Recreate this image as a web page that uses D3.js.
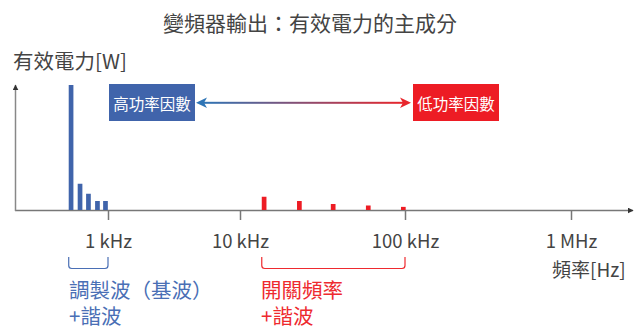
<!DOCTYPE html>
<html><head><meta charset="utf-8">
<script src="https://cdn.jsdelivr.net/npm/d3@7"></script>
<style>
body{margin:0;background:#fff;}
svg{display:block;}
text{font-family:"Noto Sans CJK TC","Noto Sans CJK SC",sans-serif;}
</style></head>
<body>
<script>
// ---- data ----
const title = "變頻器輸出：有效電力的主成分";
const yLabel = "有效電力[W]";
const xLabel = "頻率[Hz]";
const tickValues = [1e3, 1e4, 1e5, 1e6];
const tickLabels = ["1 kHz", "10 kHz", "100 kHz", "1 MHz"];
// modulation wave (fundamental) + harmonics
const lowFreq = [525, 614, 711, 832, 957];
const lowPower = [100, 21, 13, 7.2, 7.2];
// switching frequency + harmonics
const highFreq = [14000, 22900, 36700, 59900, 97700];
const highPower = [10.6, 7.2, 4.8, 3.6, 2.5];
const leftBoxLabel = "高功率因數";
const rightBoxLabel = "低功率因數";
const lowGroup = ["調製波（基波）", "+諧波"];
const highGroup = ["開關頻率", "+諧波"];

// ---- drawing ----
const W = 640, H = 327;
const blue = "#4064AB", red = "#ED1C24", axisC = "#777", textC = "#444";
const svg = d3.select("body").append("svg").attr("width", W).attr("height", H);

const x = d3.scaleLog().domain(tickValues).range([108, 240, 405, 571]);
const y = d3.scaleLinear().domain([0, 100]).range([210, 85]);
const barW = 4.7;

const defs = svg.append("defs");
const grad = defs.append("linearGradient").attr("id", "g").attr("x1", "0%").attr("x2", "100%");
grad.append("stop").attr("offset", "0%").attr("stop-color", "#2E75B6");
grad.append("stop").attr("offset", "100%").attr("stop-color", "#E8262C");
defs.append("marker").attr("id", "ay").attr("viewBox", "0 0 10 10").attr("refX", 9).attr("refY", 5)
  .attr("markerWidth", 6).attr("markerHeight", 6).attr("markerUnits", "userSpaceOnUse").attr("orient", "auto")
  .append("path").attr("d", "M0,0 L10,5 L0,10 Z").attr("fill", "#333");

// title & axis labels
svg.append("text").attr("x", 310).attr("y", 22).attr("text-anchor", "middle").attr("dominant-baseline", "central")
  .attr("font-size", 21).attr("fill", textC).text(title);
svg.append("text").attr("x", 13).attr("y", 59.5).attr("dominant-baseline", "central")
  .attr("font-size", 20.5).attr("fill", textC).text(yLabel);
svg.append("text").attr("x", 552).attr("y", 268).attr("dominant-baseline", "central")
  .attr("font-size", 19).attr("fill", textC).text(xLabel);

// x axis
const xAxis = d3.axisBottom(x).tickValues(tickValues).tickFormat((d, i) => tickLabels[i]).tickSize(10).tickPadding(9);
const gx = svg.append("g").attr("transform", "translate(0,210)").call(xAxis);
gx.select(".domain").remove();
gx.selectAll(".tick line").attr("stroke", axisC).attr("stroke-width", 1.5);
gx.selectAll(".tick text").attr("font-size", 18.5).attr("fill", textC)
  .attr("font-family", "'Noto Sans CJK TC',sans-serif").attr("dy", null).attr("dominant-baseline", "central").attr("y", 30);
svg.append("line").attr("x1", 15).attr("x2", 633).attr("y1", 210.5).attr("y2", 210.5)
  .attr("stroke", axisC).attr("stroke-width", 1.5).attr("marker-end", "url(#ay)");
// y axis
svg.append("line").attr("x1", 15.5).attr("x2", 15.5).attr("y1", 211).attr("y2", 85)
  .attr("stroke", "#888").attr("stroke-width", 1.5).attr("marker-end", "url(#ay)");

// bars
svg.append("g").selectAll("rect").data(lowFreq).join("rect")
  .attr("x", d => x(d) - barW / 2).attr("width", barW)
  .attr("y", (d, i) => y(lowPower[i])).attr("height", (d, i) => y(0) - y(lowPower[i]))
  .attr("fill", blue);
svg.append("g").selectAll("rect").data(highFreq).join("rect")
  .attr("x", d => x(d) - barW / 2).attr("width", barW)
  .attr("y", (d, i) => y(highPower[i])).attr("height", (d, i) => y(0) - y(highPower[i]))
  .attr("fill", red);

// power factor boxes + arrow
svg.append("rect").attr("x", 109).attr("y", 84).attr("width", 86).attr("height", 37).attr("fill", blue);
svg.append("text").attr("x", 152).attr("y", 102.5).attr("text-anchor", "middle").attr("dominant-baseline", "central")
  .attr("font-size", 15.5).attr("fill", "#fff").text(leftBoxLabel);
svg.append("rect").attr("x", 413).attr("y", 84).attr("width", 86).attr("height", 37).attr("fill", red);
svg.append("text").attr("x", 456).attr("y", 102.5).attr("text-anchor", "middle").attr("dominant-baseline", "central")
  .attr("font-size", 15.5).attr("fill", "#fff").text(rightBoxLabel);
svg.append("rect").attr("x", 203).attr("y", 101.8).attr("width", 200).attr("height", 2).attr("fill", "url(#g)");
svg.append("path").attr("d", "M196,102.8 L207,97.5 L204,102.8 L207,108 Z").attr("fill", "#2E75B6");
svg.append("path").attr("d", "M411,102.8 L400,97.5 L403,102.8 L400,108 Z").attr("fill", "#E8262C");

// brackets
function bracket(x0, x1, color) {
  const r = 3, y0 = 257, y1 = 268.5;
  svg.append("path").attr("d",
    `M${x0},${y0} V${y1 - r} Q${x0},${y1} ${x0 + r},${y1} H${x1 - r} Q${x1},${y1} ${x1},${y1 - r} V${y0}`)
    .attr("fill", "none").attr("stroke", color).attr("stroke-width", 1.2);
}
bracket(x(lowFreq[0]) - barW / 2, x(tickValues[0]), "#4A6FB5");
bracket(x(highFreq[0]) - barW / 2, x(tickValues[2]), "#EE2A2F");

function group(lines, x0, color) {
  svg.append("g").selectAll("text").data(lines).join("text")
    .attr("x", x0).attr("y", (d, i) => 289 + i * 26).attr("dominant-baseline", "central")
    .attr("font-size", 20.5).attr("fill", color).text(d => d);
}
group(lowGroup, 69, "#4A6FB5");
group(highGroup, 261, "#EE2A2F");
</script>
</body></html>
